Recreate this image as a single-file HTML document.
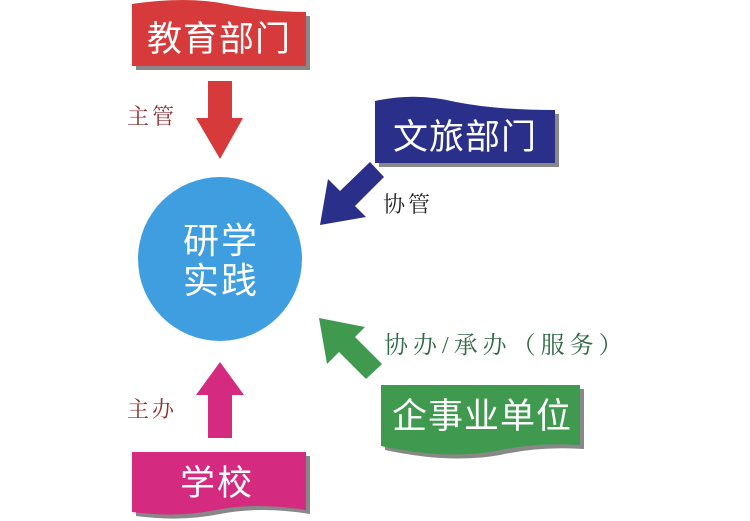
<!DOCTYPE html>
<html><head><meta charset="utf-8"><style>
html,body{margin:0;padding:0;background:#fff;}
svg{display:block;}
text{font-family:"Liberation Sans","Noto Sans CJK SC",sans-serif;}
.lbl{font-family:"Liberation Serif","Noto Serif CJK SC",serif;font-size:22px;}
</style></head><body>
<svg width="750" height="521" viewBox="0 0 750 521" xmlns="http://www.w3.org/2000/svg">
<rect width="750" height="521" fill="#fff"/>
<path d="M136,8 Q190,0 230,8 Q270,16 310,16 L310,70 L136,70 Z" fill="#555" opacity="0.7"/>
<path d="M132,4 Q186,-4 226,4 Q266,12 306,12 L306,66 L132,66 Z" fill="#d63a3a"/>
<text x="219" y="51" font-size="35" fill="#fff" text-anchor="middle" letter-spacing="1">教育部门</text>
<path d="M208,81 L232,81 L232,118 L243,118 L220,159 L196,118 L208,118 Z" fill="#d63a3a"/>
<text class="lbl" x="127" y="124" fill="#8a3030" letter-spacing="3">主管</text>
<circle cx="220" cy="259" r="82" fill="#3f9ee0"/>
<text x="221" y="253" font-size="36" fill="#fff" text-anchor="middle" letter-spacing="2">研学</text>
<text x="221" y="293" font-size="36" fill="#fff" text-anchor="middle" letter-spacing="2">实践</text>
<path d="M379,105 Q420,96 460,106 Q500,114 559,114 L559,167 L379,167 Z" fill="#555" opacity="0.7"/>
<path d="M375,101 Q416,92 456,102 Q496,110 555,110 L555,163 L375,163 Z" fill="#2a2f8a"/>
<text x="465" y="149" font-size="35" fill="#fff" text-anchor="middle" letter-spacing="1">文旅部门</text>
<path d="M370,162 L384,177 L355,206 L366,217 L320,225 L328,179 L340,191 Z" fill="#2a2f8a"/>
<text class="lbl" x="383" y="212" fill="#222" letter-spacing="3">协管</text>
<path d="M366,379 L382,364 L355,337 L365,327 L319,318 L327,364 L339,352 Z" fill="#3f9a50"/>
<text class="lbl" x="384" y="353" fill="#2f6a45" style="font-size:24px" letter-spacing="5">协办/承办（服务）</text>
<rect x="632" y="320" width="118" height="50" fill="#fff"/>
<path d="M385,389 L584,389 L584,449 Q540,446 500,455 Q450,464 385,450 Z" fill="#555" opacity="0.7"/>
<path d="M381,385 L580,385 L580,445 Q536,442 496,451 Q446,460 381,446 Z" fill="#3f9a50"/>
<text x="482" y="428" font-size="35" fill="#fff" text-anchor="middle" letter-spacing="1">企事业单位</text>
<path d="M220,362 L244,395 L232,395 L232,438 L208,438 L208,395 L196,395 Z" fill="#d42a80"/>
<text class="lbl" x="127" y="417" fill="#8a3030" letter-spacing="3">主办</text>
<path d="M136,456 L310,456 L310,514 Q260,506 220,514 Q180,522 136,516 Z" fill="#555" opacity="0.7"/>
<path d="M132,452 L306,452 L306,510 Q256,502 216,510 Q176,518 132,512 Z" fill="#d42a80"/>
<text x="217" y="495" font-size="35" fill="#fff" text-anchor="middle" letter-spacing="2">学校</text>
</svg>
</body></html>
